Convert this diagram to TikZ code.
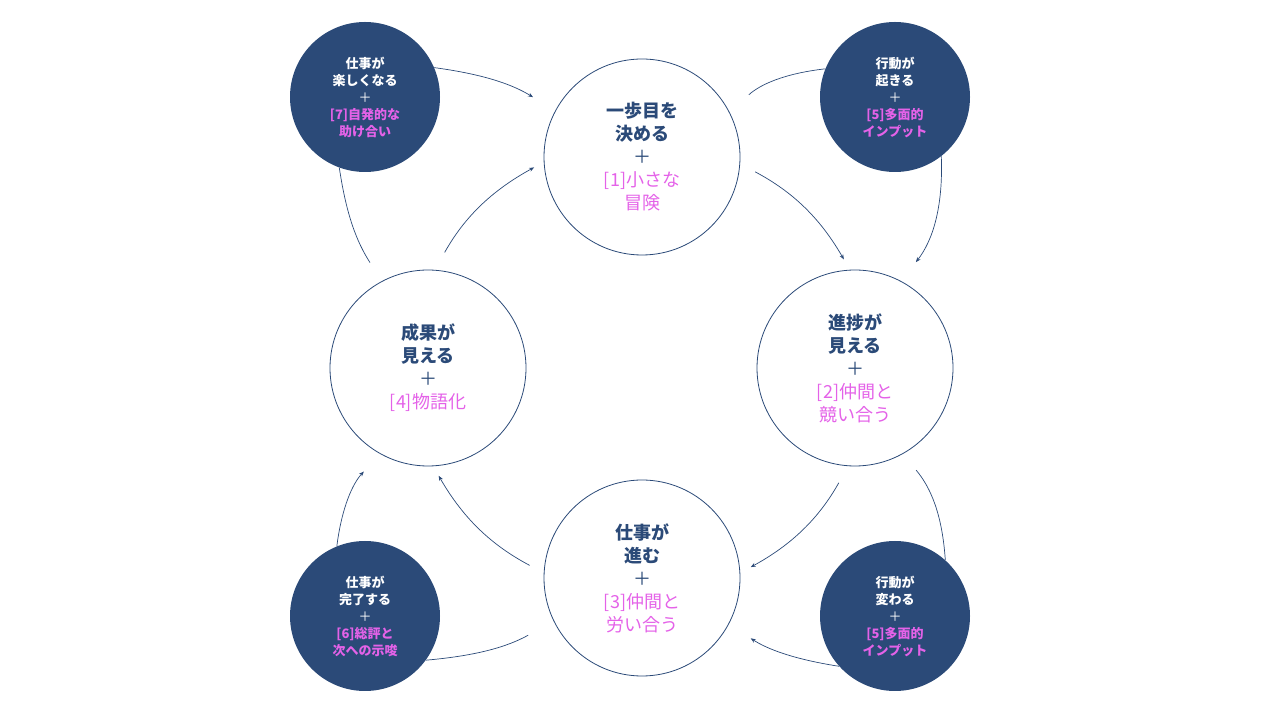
\documentclass[tikz,border=0pt]{standalone}
\usepackage{fontspec}
\setmainfont{Noto Sans CJK JP}
\usepackage{xcolor}
\usetikzlibrary{arrows.meta}
\definecolor{Navy}{RGB}{43,74,120}
\definecolor{TipPink}{RGB}{228,98,232}
\newcommand{\tip}[1]{\textcolor{TipPink}{#1}}

\begin{document}
\begin{tikzpicture}[
  x=1pt, y=1pt,
  >={Stealth[length=5pt,width=4pt]},
  stage/.style={circle, draw=Navy, line width=0.8pt, minimum size=196pt,
                inner sep=0pt, align=center, text=Navy,
                font=\fontsize{18}{23}\selectfont},
  event/.style={circle, fill=Navy, minimum size=150pt, inner sep=0pt,
                align=center, text=white, font=\fontsize{13}{17}\selectfont},
  link/.style={draw=Navy, line width=0.7pt, bend left=#1},
  link/.default=16,
  arr/.style={->, link=#1},
  arr/.default=16,
]
  \useasboundingbox (0,0) rectangle (1280,720);

  % main cycle
  \node[stage] (decide) at (642,563)
    {\textbf{一歩目を}\\\textbf{決める}\\＋\\\tip{[1]小さな}\\\tip{冒険}};
  \node[stage] (progress) at (855,352)
    {\textbf{進捗が}\\\textbf{見える}\\＋\\\tip{[2]仲間と}\\\tip{競い合う}};
  \node[stage] (work) at (642,142)
    {\textbf{仕事が}\\\textbf{進む}\\＋\\\tip{[3]仲間と}\\\tip{労い合う}};
  \node[stage] (result) at (428,352)
    {\textbf{成果が}\\\textbf{見える}\\＋\\\tip{[4]物語化}};

  % side events
  \node[event] (enjoy) at (365,623)
    {\textbf{仕事が}\\\textbf{楽しくなる}\\＋\\\tip{\textbf{[7]自発的な}}\\\tip{\textbf{助け合い}}};
  \node[event] (act) at (895,623)
    {\textbf{行動が}\\\textbf{起きる}\\＋\\\tip{\textbf{[5]多面的}}\\\tip{\textbf{インプット}}};
  \node[event] (change) at (895,104)
    {\textbf{行動が}\\\textbf{変わる}\\＋\\\tip{\textbf{[5]多面的}}\\\tip{\textbf{インプット}}};
  \node[event] (finish) at (365,104)
    {\textbf{仕事が}\\\textbf{完了する}\\＋\\\tip{\textbf{[6]総評と}}\\\tip{\textbf{次への示唆}}};

  \draw[arr, shorten <=20pt, shorten >=11pt] (result.86) to (decide.183);
  \draw[arr, shorten <=17pt, shorten >=12pt] (decide.-4) to (progress.93);
  \draw[arr, shorten <=19pt, shorten >=12pt] (progress.266) to (work.3);
  \draw[arr, shorten <=16pt, shorten >=11pt] (work.177) to (result.273);

  % outer loops
  \draw[link=12, shorten <=22pt] (result.118) to (enjoy.250);
  \draw[arr=12, shorten >=26pt] (enjoy.23) to (decide.152);
  \draw[link=18, shorten <=26pt] (decide.27) to (act.158);
  \draw[arr=20, shorten >=24pt] (act.308) to (progress.62);
  \draw[link=18, shorten <=21pt] (progress.299) to (change.48);
  \draw[arr=12, shorten >=26pt] (change.222) to (work.332);
  \draw[link=12, shorten <=29pt] (work.206) to (finish.324);
  \draw[arr=18, shorten >=24pt] (finish.112) to (result.241);
\end{tikzpicture}
\end{document}
